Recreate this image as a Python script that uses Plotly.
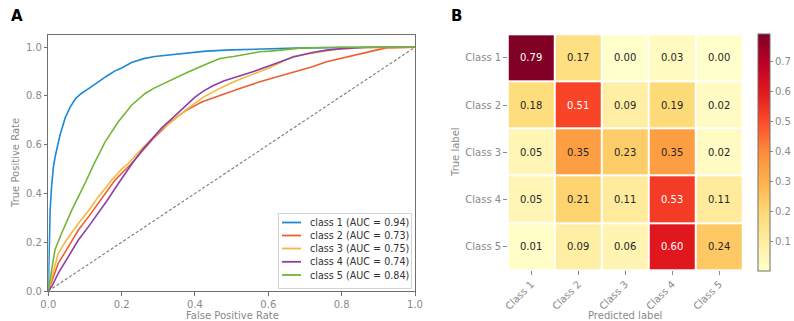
import plotly.graph_objects as go

W, H = 794, 321

# ---- ROC curves (false positive rate / true positive rate per class) ----
roc_names = ["class 1", "class 2", "class 3", "class 4", "class 5"]
roc_auc = [0.94, 0.73, 0.75, 0.74, 0.84]
roc_colors = ["#1f88d2", "#ee5e2e", "#f6b73c", "#8b3fa8", "#73b536"]

fpr_1 = [0, 0.002, 0.005, 0.009, 0.014, 0.02, 0.032, 0.046, 0.06, 0.075, 0.09, 0.11,
         0.136, 0.16, 0.182, 0.2, 0.227, 0.26, 0.29, 0.33, 0.38, 0.43, 0.5, 0.6, 0.7,
         0.8, 0.9, 1.0]
tpr_1 = [0, 0.2, 0.33, 0.43, 0.51, 0.56, 0.64, 0.71, 0.755, 0.79, 0.81, 0.83,
         0.858, 0.882, 0.903, 0.915, 0.937, 0.953, 0.962, 0.969, 0.977, 0.984, 0.989,
         0.994, 0.997, 0.999, 1.0, 1.0]

fpr_2 = [0, 0.01, 0.027, 0.05, 0.082, 0.11, 0.136, 0.16, 0.182, 0.205, 0.227, 0.26,
         0.286, 0.31, 0.332, 0.355, 0.377, 0.42, 0.468, 0.52, 0.577, 0.605, 0.668,
         0.72, 0.759, 0.8, 0.85, 0.9, 0.923, 1.0]
tpr_2 = [0, 0.04, 0.113, 0.17, 0.25, 0.305, 0.36, 0.41, 0.455, 0.49, 0.523, 0.58,
         0.625, 0.66, 0.692, 0.718, 0.742, 0.776, 0.803, 0.83, 0.858, 0.87, 0.899,
         0.92, 0.94, 0.955, 0.974, 0.99, 0.997, 1.0]

fpr_3 = [0, 0.01, 0.027, 0.05, 0.082, 0.11, 0.136, 0.16, 0.173, 0.2, 0.218, 0.25,
         0.286, 0.31, 0.332, 0.377, 0.423, 0.47, 0.514, 0.56, 0.605, 0.668, 0.72,
         0.777, 0.85, 1.0]
tpr_3 = [0, 0.06, 0.154, 0.21, 0.277, 0.33, 0.386, 0.43, 0.455, 0.5, 0.523, 0.575,
         0.63, 0.665, 0.69, 0.745, 0.795, 0.833, 0.863, 0.89, 0.917, 0.962, 0.975,
         0.99, 0.998, 1.0]

fpr_4 = [0, 0.01, 0.027, 0.05, 0.082, 0.11, 0.136, 0.16, 0.191, 0.232, 0.26, 0.286,
         0.31, 0.332, 0.377, 0.40, 0.423, 0.45, 0.48, 0.514, 0.56, 0.605, 0.668, 0.72,
         0.759, 0.8, 0.87, 1.0]
tpr_4 = [0, 0.02, 0.072, 0.13, 0.209, 0.265, 0.318, 0.37, 0.441, 0.53, 0.585, 0.63,
         0.67, 0.70, 0.765, 0.795, 0.82, 0.843, 0.862, 0.878, 0.9, 0.925, 0.96, 0.978,
         0.988, 0.994, 1.0, 1.0]

fpr_5 = [0, 0.005, 0.018, 0.036, 0.064, 0.1, 0.123, 0.155, 0.191, 0.227, 0.264,
         0.286, 0.327, 0.377, 0.43, 0.468, 0.505, 0.577, 0.605, 0.686, 0.8, 1.0]
tpr_5 = [0, 0.045, 0.168, 0.236, 0.332, 0.441, 0.516, 0.612, 0.694, 0.762, 0.81,
         0.83, 0.86, 0.895, 0.93, 0.954, 0.962, 0.981, 0.984, 0.996, 1.0, 1.0]

roc_fpr = [fpr_1, fpr_2, fpr_3, fpr_4, fpr_5]
roc_tpr = [tpr_1, tpr_2, tpr_3, tpr_4, tpr_5]
chance = [0.0, 1.0]

# ---- normalized confusion matrix ----
class_labels = ["Class 1", "Class 2", "Class 3", "Class 4", "Class 5"]
cm_values = [
    [0.79, 0.17, 0.00, 0.03, 0.00],
    [0.18, 0.51, 0.09, 0.19, 0.02],
    [0.05, 0.35, 0.23, 0.35, 0.02],
    [0.05, 0.21, 0.11, 0.53, 0.11],
    [0.01, 0.09, 0.06, 0.60, 0.24],
]
cbar_ticks = [0.1, 0.2, 0.3, 0.4, 0.5, 0.6, 0.7]

ylorrd = ["#ffffcc", "#ffeda0", "#fed976", "#feb24c", "#fd8d3c",
          "#fc4e2a", "#e31a1c", "#bd0026", "#800026"]
colorscale = [[i / (len(ylorrd) - 1), c] for i, c in enumerate(ylorrd)]


def px_x(p):
    return p / W


def px_y(p):
    return (H - p) / H


FONT = "DejaVu Sans"
TICK_GRAY = "#8a8a8a"
SPINE = "#6f6f6f"

fig = go.Figure()

# chance diagonal
fig.add_trace(go.Scatter(x=chance, y=chance, mode="lines",
                         line=dict(color="#7a7a7a", width=1.1, dash="3px,2px"),
                         xaxis="x", yaxis="y", showlegend=False, hoverinfo="skip"))

for fpr, tpr, name, auc, col in zip(roc_fpr, roc_tpr, roc_names, roc_auc, roc_colors):
    fig.add_trace(go.Scatter(x=fpr, y=tpr, mode="lines",
                             line=dict(color=col, width=1.6),
                             name=f"{name} (AUC = {auc:.2f})",
                             xaxis="x", yaxis="y", showlegend=False))

# confusion-matrix heatmap
fig.add_trace(go.Heatmap(
    z=cm_values, x=class_labels, y=class_labels,
    colorscale=colorscale, zmin=0.0, zmax=0.79,
    xgap=2, ygap=2, xaxis="x2", yaxis="y2", hoverongaps=False,
    colorbar=dict(
        x=px_x(758), xanchor="left", xref="paper", xpad=0,
        y=px_y(152.7), yanchor="middle", yref="paper", ypad=0,
        thickness=12, thicknessmode="pixels",
        len=237, lenmode="pixels",
        outlinecolor=SPINE, outlinewidth=1,
        tickvals=cbar_ticks, tickformat=".1f",
        ticks="outside", ticklen=3, tickcolor=TICK_GRAY,
        tickfont=dict(family=FONT, size=10, color=TICK_GRAY),
    ),
))

annotations = []
zmax = max(max(r) for r in cm_values)
for i, row in enumerate(cm_values):
    for j, v in enumerate(row):
        annotations.append(dict(
            x=class_labels[j], y=class_labels[i], xref="x2", yref="y2",
            text=f"{v:.2f}", showarrow=False,
            font=dict(family=FONT, size=10,
                      color="white" if v > zmax / 2 else "#262626"),
        ))

# legend for the ROC panel
shapes = [dict(type="rect", xref="paper", yref="paper",
               x0=px_x(278.5), x1=px_x(411.5), y0=px_y(288.5), y1=px_y(213.5),
               line=dict(color="#d4d4d4", width=1), fillcolor="rgba(255,255,255,0.85)",
               layer="above")]
row_y = [222.5, 235.5, 248.5, 261.8, 275.0]
for k, (name, auc, col) in enumerate(zip(roc_names, roc_auc, roc_colors)):
    shapes.append(dict(type="line", xref="paper", yref="paper",
                       x0=px_x(282), x1=px_x(301), y0=px_y(row_y[k]), y1=px_y(row_y[k]),
                       line=dict(color=col, width=1.8), layer="above"))
    annotations.append(dict(x=px_x(308), y=px_y(row_y[k]), xref="paper", yref="paper",
                            xanchor="left", yanchor="middle", showarrow=False,
                            text=f"{name} (AUC = {auc:.2f})",
                            font=dict(family=FONT, size=9.6, color="#333333")))

# panel letters and axis titles
annotations += [
    dict(x=px_x(9), y=px_y(16), xref="paper", yref="paper", xanchor="left",
         yanchor="middle", showarrow=False, text="<b>A</b>",
         font=dict(family=FONT, size=15, color="black")),
    dict(x=px_x(449), y=px_y(16), xref="paper", yref="paper", xanchor="left",
         yanchor="middle", showarrow=False, text="<b>B</b>",
         font=dict(family=FONT, size=15, color="black")),
    dict(x=px_x(232), y=px_y(315), xref="paper", yref="paper", xanchor="center",
         yanchor="middle", showarrow=False, text="False Positive Rate",
         font=dict(family=FONT, size=10, color=TICK_GRAY)),
    dict(x=px_x(16), y=px_y(163), xref="paper", yref="paper", xanchor="center",
         yanchor="middle", showarrow=False, text="True Positive Rate", textangle=-90,
         font=dict(family=FONT, size=10, color=TICK_GRAY)),
    dict(x=px_x(625), y=px_y(315), xref="paper", yref="paper", xanchor="center",
         yanchor="middle", showarrow=False, text="Predicted label",
         font=dict(family=FONT, size=10, color=TICK_GRAY)),
    dict(x=px_x(455), y=px_y(152), xref="paper", yref="paper", xanchor="center",
         yanchor="middle", showarrow=False, text="True label", textangle=-90,
         font=dict(family=FONT, size=10, color=TICK_GRAY)),
]

roc_axis = dict(
    showgrid=False, zeroline=False, showline=True, mirror=True,
    linecolor=SPINE, linewidth=1, automargin=False,
    ticks="outside", ticklen=3.5, tickcolor=SPINE,
    tickfont=dict(family=FONT, size=10, color=TICK_GRAY),
    tickvals=[0, 0.2, 0.4, 0.6, 0.8, 1.0], tickformat=".1f",
)

fig.update_layout(
    width=W, height=H,
    margin=dict(l=0, r=0, t=0, b=0, autoexpand=False),
    paper_bgcolor="white", plot_bgcolor="white",
    font=dict(family=FONT),
    showlegend=False,
    xaxis=dict(domain=[px_x(48.3), px_x(415)], range=[0, 1], anchor="y", **roc_axis),
    yaxis=dict(domain=[px_y(291), px_y(35)], range=[0, 1.05], anchor="x", **roc_axis),
    xaxis2=dict(domain=[px_x(507.7), px_x(742.7)], range=[-0.5, 4.5], anchor="y2",
                showgrid=False, zeroline=False, showline=False, automargin=False,
                ticks="outside", ticklen=3.5, tickcolor=TICK_GRAY, tickangle=-45,
                tickfont=dict(family=FONT, size=10, color=TICK_GRAY)),
    yaxis2=dict(domain=[px_y(270), px_y(34.3)], range=[4.5, -0.5], anchor="x2",
                showgrid=False, zeroline=False, showline=False, automargin=False,
                ticks="outside", ticklen=3.5, tickcolor=TICK_GRAY,
                tickfont=dict(family=FONT, size=10, color=TICK_GRAY)),
    annotations=annotations,
    shapes=shapes,
)

fig.write_html("out.html")
